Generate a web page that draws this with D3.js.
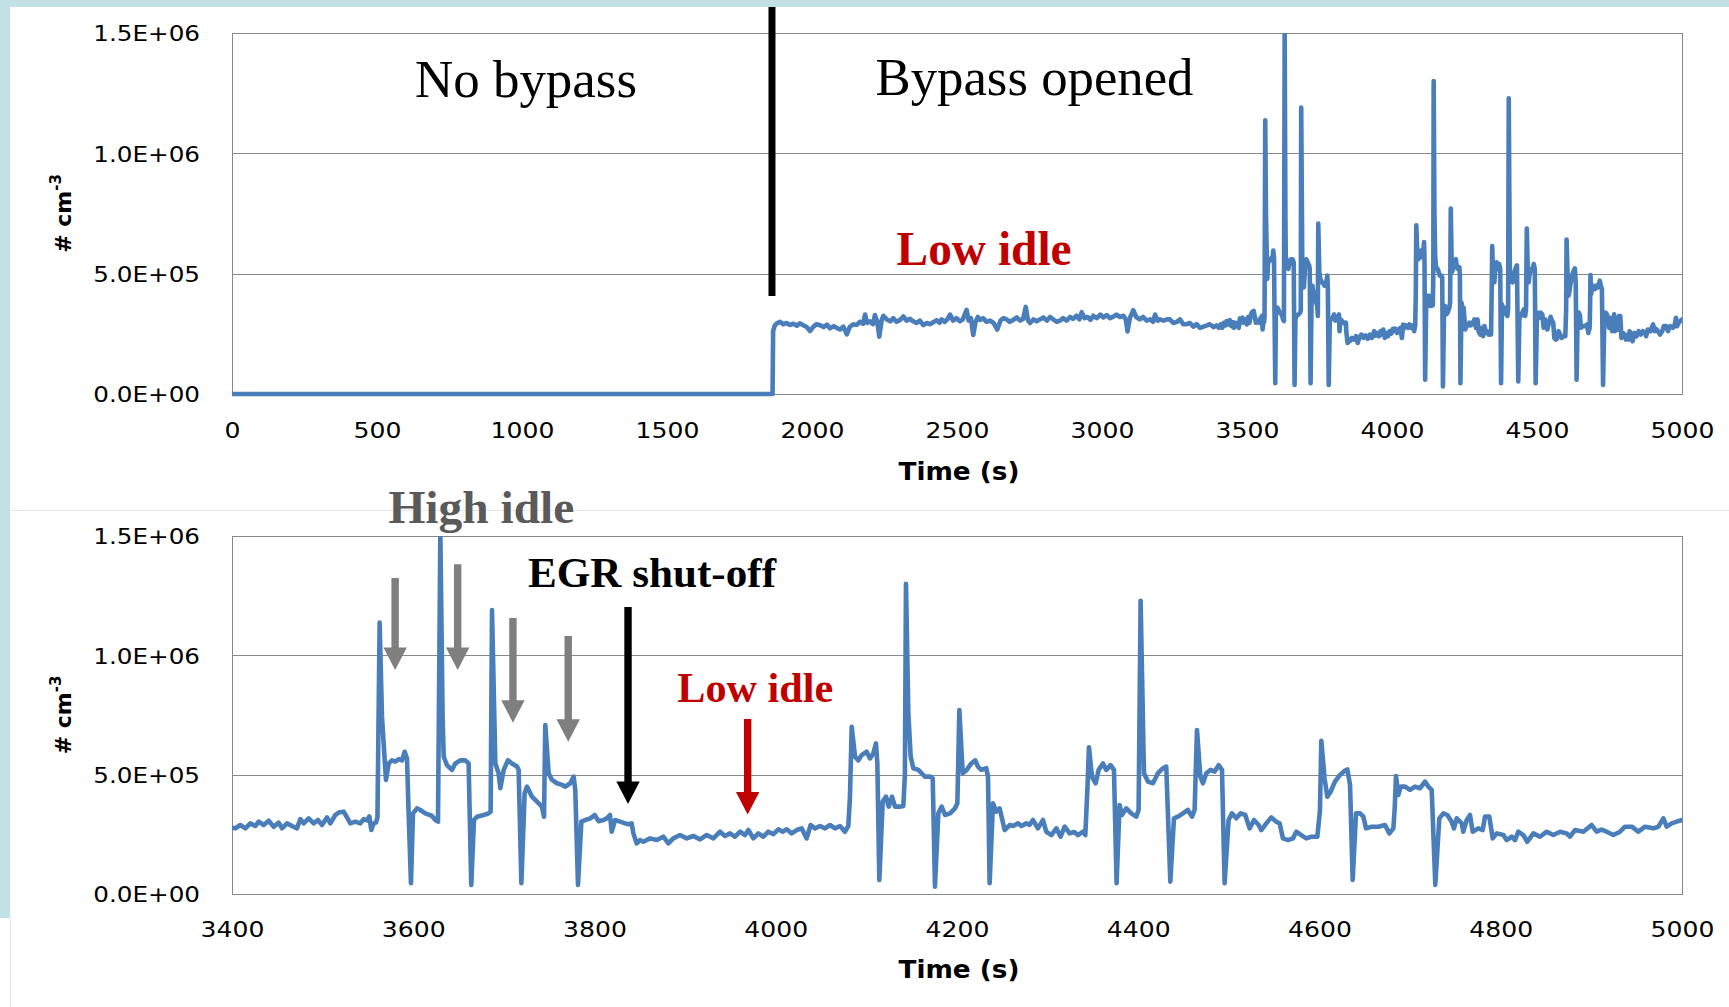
<!DOCTYPE html>
<html>
<head>
<meta charset="utf-8">
<script src="https://cdn.jsdelivr.net/npm/d3@7"></script>
<style>
  html, body { margin: 0; padding: 0; background: #fff; }
  svg { display: block; }
  .tick text { font-family: "DejaVu Sans", sans-serif; font-size: 22px; fill: #000; }
</style>
</head>
<body>
<svg id="chart" width="1729" height="1007"></svg>
<script>
// -----------------------------------------------------------------------------
// Data (time in s, concentration in units of 1E+05 # cm-3)
// -----------------------------------------------------------------------------

var timeS = [
  0, 1864,
  1866, 1872, 1880, 1890, 1900, 1912, 1924, 1936, 1948, 1958,
  1970, 1982, 1993, 2005, 2016, 2028, 2040, 2052, 2062, 2075,
  2086, 2097, 2108, 2120, 2130, 2142, 2154, 2165, 2176, 2183,
  2190, 2200, 2210, 2217, 2225, 2232, 2240, 2246, 2258, 2270,
  2280, 2292, 2304, 2315, 2326, 2338, 2349, 2360, 2372, 2384,
  2396, 2408, 2418, 2430, 2440, 2447, 2458, 2468, 2476, 2486,
  2498, 2510, 2520, 2533, 2540, 2548, 2556, 2564, 2572, 2579,
  2590, 2602, 2614, 2626, 2639, 2650, 2660, 2671, 2682, 2694,
  2706, 2718, 2728, 2737, 2745, 2752, 2764, 2775, 2786, 2798,
  2810, 2821, 2832, 2844, 2855, 2866, 2878, 2890, 2900, 2912,
  2922, 2930, 2940, 2950, 2960, 2970, 2982, 2994, 3005, 3016,
  3028, 3040, 3050, 3062, 3074, 3082, 3088, 3096, 3108, 3118,
  3130, 3142, 3154, 3166, 3176, 3183, 3192, 3200, 3212, 3224,
  3234, 3246, 3258, 3269, 3280, 3292, 3303, 3315, 3326, 3338,
  3350, 3362, 3372, 3385, 3395,
  3400, 3403.7, 3409.2, 3414.7, 3420.2, 3425.7, 3429.4, 3434.9, 3440.5, 3446,
  3451.5, 3455.2, 3460.7, 3466.2, 3471.7, 3475.4, 3479.1, 3484.6, 3490.1, 3494.9,
  3499.3, 3504.8, 3508.5, 3514, 3517.7, 3523.2, 3526.9, 3530.6, 3536.1, 3541.6,
  3545.3, 3549, 3551.5, 3553.7, 3556.3, 3558.9, 3560.5, 3562.9, 3565.5, 3568.5,
  3569.9, 3572.9, 3576.5, 3580.2, 3584, 3587.6, 3590.5, 3593.1, 3594.9, 3597.5,
  3599.7, 3604.1, 3607.8, 3613.3, 3620.7, 3624.4, 3627.3, 3629.9, 3632.4, 3633.6,
  3637.2, 3642.7, 3646.4, 3651.9, 3657.5, 3661.1, 3664, 3667, 3670.3, 3677.7,
  3683.2, 3685.4, 3686.9, 3690.6, 3694.2, 3696.1, 3699.8, 3704.5, 3708.9, 3714.5,
  3716.3, 3719.3, 3722.9, 3725.5, 3731, 3736.5, 3742, 3744.3, 3745.7, 3749.4,
  3753.1, 3758.6, 3764.1, 3767.8, 3773.3, 3777, 3778.8, 3781.8, 3785.5, 3789.9,
  3795.4, 3800.2, 3804.6, 3810, 3813.5, 3817.1, 3819, 3822.7, 3828.2, 3833.7,
  3837, 3841, 3842.9, 3846.6, 3850.2, 3853.9, 3861.3, 3868.6, 3876, 3881.5,
  3887, 3894.4, 3901.7, 3909.1, 3916.4, 3923.8, 3931.2, 3938.5, 3944, 3949.5,
  3955.1, 3960.6, 3966.1, 3969.8, 3975.3, 3980.8, 3986.3, 3991.8, 3997.4, 4002.9,
  4007.7, 4012.1, 4017.6, 4023.1, 4028.6, 4034.1, 4038.5, 4043.3, 4048.8, 4054.4,
  4059.9, 4065.4, 4070.9, 4076.4, 4080.1, 4081.9, 4083.8, 4087.5, 4091.1, 4094.8,
  4100.3, 4104, 4107.7, 4110.6, 4112.1, 4114.3, 4118, 4121.7, 4124.6, 4128.3,
  4131.6, 4137.1, 4140.8, 4142.5, 4143.7, 4146.3, 4148.9, 4151.8, 4157.4, 4161,
  4164.7, 4170.2, 4173.2, 4175.7, 4179.4, 4183.1, 4186.8, 4192.3, 4197.8, 4200.4,
  4202.6, 4206.3, 4210.7, 4215.8, 4220.2, 4223.1, 4226.8, 4232.3, 4234.2, 4236,
  4239.7, 4243.4, 4247, 4252.6, 4258.1, 4262, 4267.3, 4271, 4276.5, 4280,
  4283.8, 4289.3, 4294.9, 4298.5, 4304.1, 4309.6, 4314.3, 4318.8, 4324.3, 4329,
  4333.5, 4339, 4341.6, 4344, 4345.6, 4348.9, 4353, 4356.3, 4361.1, 4364.7,
  4369.5, 4373.2, 4376.1, 4379.4, 4382, 4386.8, 4392.3, 4397.8, 4400.4, 4402.6,
  4406.3, 4410.7, 4416.2, 4421.7, 4427.3, 4430.9, 4435.4, 4439.4, 4443.8, 4449.3,
  4454.8, 4459.3, 4462.2, 4464.8, 4468.5, 4471.4, 4475.1, 4479.9, 4484.3, 4488.7,
  4492.4, 4495.3, 4499.7, 4503.4, 4508.2, 4513, 4518.1, 4522.9, 4527.7, 4532.8,
  4535.8, 4541.3, 4546.8, 4552.3, 4556, 4559.7, 4565.2, 4570.7, 4574.4, 4579.9,
  4585.4, 4590.9, 4597.6, 4600.5, 4602, 4605.6, 4608.6, 4612.3, 4617.1, 4622.6,
  4628.2, 4630.7, 4633.7, 4636.6, 4640.3, 4644.7, 4648.4, 4651.3, 4657.6, 4664.9,
  4672.3, 4677.1, 4681.5, 4683, 4684.4, 4687, 4689.6, 4694.4, 4699.9, 4705.4,
  4710.9, 4716.4, 4720.1, 4723.8, 4727.8, 4732.2, 4736.7, 4741.1, 4745.8, 4748.4,
  4751.4, 4756.9, 4758.7, 4762.4, 4766.1, 4769, 4775.3, 4780.1, 4782.6, 4787.4,
  4791.1, 4795.5, 4802.9, 4806.5, 4812.1, 4815.7, 4819.4, 4824.9, 4829.3, 4836,
  4843.3, 4850.7, 4858, 4865.4, 4872.7, 4876.4, 4881.9, 4891.1, 4900.3, 4905.8,
  4911, 4916.9, 4924.2, 4931.6, 4937.1, 4944.5, 4951.8, 4959.2, 4968.4, 4973.9,
  4979.4, 4983.1, 4988.6, 4994.1, 5000
];

var numConc = [
  0, 0,
  2.62, 2.85, 2.95, 3.0, 2.9, 2.95, 2.87, 2.92, 2.84, 2.94,
  2.86, 2.78, 2.62, 2.8, 2.9, 2.86, 2.78, 2.88, 2.73, 2.82,
  2.74, 2.68, 2.8, 2.48, 2.78, 2.9, 2.87, 3.0, 2.92, 3.3,
  2.95, 3.02, 2.9, 3.28, 3.0, 2.38, 3.05, 3.25, 3.1, 3.02,
  3.15, 3.0, 3.08, 3.22, 3.05, 3.12, 3.02, 2.95, 3.05, 2.86,
  2.95, 2.9, 2.98, 3.06, 2.96, 3.1, 3.0, 3.12, 3.3, 3.05,
  3.15, 3.02, 3.1, 3.5, 3.05, 3.15, 2.45, 3.0, 3.2, 3.08,
  3.15, 3.0, 3.05, 2.95, 2.68, 3.05, 3.15, 3.1, 3.0, 3.08,
  3.18, 3.05, 3.12, 3.62, 3.05, 2.95, 3.1, 3.02, 3.1, 3.18,
  3.05, 3.2, 3.1, 3.0, 3.05, 3.15, 3.05, 3.2, 3.12, 3.25,
  3.1, 3.4, 3.15, 3.2, 3.08, 3.25, 3.15, 3.3, 3.18, 3.28,
  3.15, 3.22, 3.3, 3.2, 3.25, 3.1, 2.6, 3.15, 3.48, 3.2,
  3.1, 3.2, 3.05, 3.1, 3.0, 3.3, 3.05, 3.1, 3.05, 3.1,
  3.1, 2.95, 3.0, 3.1, 2.9, 2.9, 2.95, 2.8, 2.9, 2.75,
  2.8, 2.85, 2.9, 2.78, 2.85,
  2.78, 2.75, 2.89, 2.75, 2.96, 2.85, 3.03, 2.89, 3.07, 2.82,
  2.99, 2.75, 2.96, 2.85, 2.75, 3.14, 2.96, 3.17, 2.96, 3.1,
  2.89, 3.21, 2.96, 3.31, 3.41, 3.45, 3.21, 2.96, 3.03, 2.96,
  3.14, 3.08, 3.25, 2.68, 2.96, 2.99, 3.2, 11.37, 7.43, 5.6,
  4.78, 5.47, 5.6, 5.55, 5.65, 5.6, 5.96, 5.68, 3.38, 0.45,
  3.38, 3.59, 3.52, 3.38, 3.27, 3.1, 3.03, 15.1, 7.43, 5.75,
  5.4, 5.2, 5.47, 5.6, 5.6, 5.47, 0.38, 3.1, 3.24, 3.31,
  3.38, 3.45, 11.9, 5.47, 5.06, 4.43, 5.2, 5.6, 5.47, 5.34,
  5.2, 0.45, 4.22, 4.5, 4.08, 3.87, 3.66, 3.24, 7.08, 5.06,
  4.78, 4.64, 4.57, 4.5, 4.64, 4.92, 4.36, 0.38, 3.03, 3.1,
  3.17, 3.31, 3.05, 3.1, 3.17, 3.31, 2.61, 3.1, 3.03, 2.96,
  2.92, 2.96, 2.54, 2.12, 2.26, 2.19, 2.33, 2.26, 2.4, 2.12,
  2.33, 2.47, 2.33, 2.43, 2.29, 2.47, 2.33, 2.61, 2.43, 2.54,
  2.4, 2.61, 2.47, 2.68, 2.33, 2.54, 2.4, 2.61, 2.51, 2.71,
  2.61, 2.71, 2.54, 2.68, 2.75, 2.33, 2.89, 2.75, 2.85, 2.75,
  2.89, 2.75, 2.85, 2.61, 2.85, 4.08, 7.01, 5.75, 5.6, 5.82,
  5.96, 5.68, 5.89, 6.31, 5.47, 0.59, 3.87, 4.08, 3.66, 4.08,
  3.66, 3.66, 3.69, 5.0, 13.0, 7.57, 5.75, 5.27, 5.2, 5.06,
  4.92, 4.92, 4.85, 0.31, 3.38, 3.66, 3.31, 3.38, 3.59, 3.8,
  7.71, 5.06, 5.2, 5.47, 5.6, 5.34, 5.2, 5.27, 4.92, 0.45,
  3.8, 3.45, 3.59, 2.68, 2.89, 2.85, 2.96, 2.85, 2.96, 2.9,
  3.1, 2.75, 3.1, 2.61, 2.47, 2.75, 2.4, 2.82, 2.54, 2.6,
  2.47, 2.61, 2.47, 4.5, 6.15, 4.92, 4.64, 5.2, 5.47, 5.2,
  5.4, 5.2, 0.45, 3.73, 3.31, 3.59, 3.38, 3.24, 3.52, 12.29,
  5.06, 4.71, 4.64, 5.06, 5.27, 5.34, 0.52, 3.17, 3.24, 3.38,
  3.52, 3.24, 3.52, 6.87, 4.92, 4.64, 5.06, 5.2, 5.13, 5.4,
  5.2, 0.45, 3.1, 3.38, 3.17, 3.38, 3.31, 2.75, 3.1, 2.89,
  2.68, 2.96, 3.21, 3.03, 2.96, 2.33, 2.26, 2.33, 2.61, 2.47,
  2.33, 2.4, 2.4, 3.5, 6.42, 4.85, 4.08, 4.29, 4.71, 4.99,
  5.17, 5.22, 4.57, 0.59, 3.38, 3.38, 3.24, 2.75, 2.82, 2.82,
  2.89, 2.54, 2.75, 3.6, 4.94, 4.15, 4.5, 4.5, 4.36, 4.5,
  4.43, 4.71, 4.5, 4.36, 0.38, 3.17, 3.38, 3.31, 3.03, 2.75,
  3.17, 2.96, 2.61, 3.1, 3.31, 2.61, 2.75, 2.68, 3.24, 3.24,
  2.33, 2.54, 2.47, 2.26, 2.4, 2.26, 2.61, 2.47, 2.19, 2.54,
  2.4, 2.61, 2.47, 2.61, 2.54, 2.4, 2.68, 2.61, 2.89, 2.61,
  2.7, 2.61, 2.47, 2.61, 2.82, 2.82, 2.61, 2.82, 2.75, 2.82,
  3.17, 2.82, 2.96, 3.03, 3.1
];

var topTicks = [0, 500, 1000, 1500, 2000, 2500, 3000, 3500, 4000, 4500, 5000];
var bottomTicks = [3400, 3600, 3800, 4000, 4200, 4400, 4600, 4800, 5000];
var concTicks = [0, 5, 10, 15];

// arrows on the lower panel: time, start value, tip value
var arrowTimes = [3580, 3649, 3710, 3771, 3837, 3969];
var arrowFrom = [13.24, 13.82, 11.56, 10.81, 12.03, 7.33];
var arrowTo = [9.39, 9.39, 7.18, 6.38, 3.77, 3.33];
var arrowColors = ["#7f7f7f", "#7f7f7f", "#7f7f7f", "#7f7f7f", "#000000", "#c00000"];

var bypassTime = 1862;

// -----------------------------------------------------------------------------
// Helpers
// -----------------------------------------------------------------------------

var svg = d3.select("#chart");
var LINE_COLOR = "#4a7ebb";
var GRID_COLOR = "#888888";

var series = timeS.map(function (t, i) { return {t: t, v: numConc[i]}; });

function sciLabel(v) {
  var n = v * 1e5;
  if (n === 0) return "0.0E+00";
  var e = Math.floor(Math.log10(n) + 1e-9);
  var m = n / Math.pow(10, e);
  return m.toFixed(1) + "E+" + (e < 10 ? "0" : "") + e;
}

function stretch(sel, k) {
  sel.each(function () {
    var w = this.getComputedTextLength();
    d3.select(this).attr("textLength", w * k).attr("lengthAdjust", "spacingAndGlyphs");
  });
}

function drawPanel(p, id) {
  var x = d3.scaleLinear().domain(p.xDomain).range([p.left, p.right]);
  var y = d3.scaleLinear().domain([0, 15]).range([p.bottom, p.top]);
  var g = svg.append("g");

  g.append("rect")
      .attr("x", p.left + 0.5).attr("y", p.top + 0.5)
      .attr("width", p.right - p.left).attr("height", p.bottom - p.top)
      .attr("fill", "#fff").attr("stroke", GRID_COLOR);

  g.selectAll(".grid").data(concTicks.slice(1, -1)).join("line")
      .attr("x1", p.left).attr("x2", p.right)
      .attr("y1", function (d) { return Math.round(y(d)) + 0.5; })
      .attr("y2", function (d) { return Math.round(y(d)) + 0.5; })
      .attr("stroke", GRID_COLOR);

  svg.append("clipPath").attr("id", id)
    .append("rect")
      .attr("x", p.left).attr("y", p.top)
      .attr("width", p.right - p.left).attr("height", p.bottom - p.top + 6);

  var line = d3.line()
      .x(function (d) { return x(d.t); })
      .y(function (d) { return y(d.v); });

  g.append("path")
      .datum(series.filter(function (d) { return d.t >= p.xDomain[0] && d.t <= p.xDomain[1]; }))
      .attr("clip-path", "url(#" + id + ")")
      .attr("fill", "none")
      .attr("stroke", LINE_COLOR)
      .attr("stroke-width", 4.6)
      .attr("stroke-linejoin", "round")
      .attr("stroke-linecap", "round")
      .attr("d", line);

  var xAxis = g.append("g")
      .attr("transform", "translate(0," + p.bottom + ")")
      .call(d3.axisBottom(x).tickValues(p.xTicks).tickSize(0).tickPadding(p.labelPad).tickFormat(d3.format("d")));
  xAxis.select(".domain").remove();
  stretch(xAxis.selectAll("text"), 1.14);

  var yAxis = g.append("g")
      .attr("transform", "translate(" + p.left + ",0)")
      .call(d3.axisLeft(y).tickValues(concTicks).tickSize(0).tickPadding(32).tickFormat(sciLabel));
  yAxis.select(".domain").remove();
  yAxis.selectAll("text").attr("dy", "0.36em");
  stretch(yAxis.selectAll("text"), 1.12);

  g.append("text")
      .attr("x", (p.left + p.right) / 2 + 2)
      .attr("y", p.titleY)
      .attr("text-anchor", "middle")
      .attr("font-family", "DejaVu Sans, sans-serif")
      .attr("font-weight", "bold")
      .attr("font-size", 24)
      .attr("textLength", 121)
      .attr("lengthAdjust", "spacingAndGlyphs")
      .text("Time (s)");

  var yTitle = g.append("text")
      .attr("transform", "translate(71," + ((p.top + p.bottom) / 2) + ") rotate(-90)")
      .attr("text-anchor", "middle")
      .attr("font-family", "DejaVu Sans, sans-serif")
      .attr("font-weight", "bold")
      .attr("font-size", 22);
  yTitle.append("tspan").text("# cm");
  yTitle.append("tspan").attr("font-size", 15).attr("dy", -10).text("-3");

  return {x: x, y: y, g: g};
}

function addLabel(text, x, y, size, weight, fill, len) {
  svg.append("text")
      .attr("x", x).attr("y", y)
      .attr("font-family", "Liberation Serif, Times New Roman, serif")
      .attr("font-size", size)
      .attr("font-weight", weight)
      .attr("fill", fill)
      .attr("textLength", len)
      .attr("lengthAdjust", "spacingAndGlyphs")
      .text(text);
}

// -----------------------------------------------------------------------------
// Page frame
// -----------------------------------------------------------------------------

svg.append("rect").attr("width", 1729).attr("height", 1007).attr("fill", "#fff");
svg.append("rect").attr("x", 0).attr("y", 0).attr("width", 1729).attr("height", 7).attr("fill", "#c1e1e7");
svg.append("rect").attr("x", 0).attr("y", 0).attr("width", 10).attr("height", 918).attr("fill", "#c1e1e7");
svg.append("line").attr("x1", 10.5).attr("x2", 10.5).attr("y1", 918).attr("y2", 1007).attr("stroke", "#e2e2e2");
svg.append("line").attr("x1", 10).attr("x2", 1729).attr("y1", 510.5).attr("y2", 510.5).attr("stroke", "#e6e6e6");

// -----------------------------------------------------------------------------
// Panels
// -----------------------------------------------------------------------------

var topPanel = drawPanel({xDomain: [0, 5000], xTicks: topTicks, left: 232, right: 1682,
                          top: 33, bottom: 394, labelPad: 28, titleY: 480}, "clipTop");
var bottomPanel = drawPanel({xDomain: [3400, 5000], xTicks: bottomTicks, left: 232, right: 1682,
                             top: 536, bottom: 894, labelPad: 27, titleY: 978}, "clipBottom");

// bypass opening marker
svg.append("line")
    .attr("x1", topPanel.x(bypassTime)).attr("x2", topPanel.x(bypassTime))
    .attr("y1", topPanel.y(16.08)).attr("y2", topPanel.y(4.07))
    .attr("stroke", "#000").attr("stroke-width", 7);

addLabel("No bypass", 415, 97, 52, "normal", "#000", 222);
addLabel("Bypass opened", 875.5, 94.5, 52, "normal", "#000", 318);
addLabel("Low idle", 896.6, 265, 48, "bold", "#c00000", 175);

addLabel("High idle", 388.4, 522.7, 47, "bold", "#5a5a5a", 186);
addLabel("EGR shut-off", 528, 586.7, 43, "bold", "#000", 248);
addLabel("Low idle", 677.3, 702.3, 42, "bold", "#c00000", 156);

// arrows
var HEAD_LEN = 22.5, HEAD_HALF = 11.7, SHAFT_HALF = 3.7;
svg.selectAll(".arrow").data(arrowTimes).join("path")
    .attr("class", "arrow")
    .attr("fill", function (d, i) { return arrowColors[i]; })
    .attr("d", function (d, i) {
      var cx = bottomPanel.x(d);
      var y0 = bottomPanel.y(arrowFrom[i]);
      var tip = bottomPanel.y(arrowTo[i]);
      var hb = tip - HEAD_LEN;
      return "M" + (cx - SHAFT_HALF) + "," + y0 +
             "L" + (cx + SHAFT_HALF) + "," + y0 +
             "L" + (cx + SHAFT_HALF) + "," + hb +
             "L" + (cx + HEAD_HALF) + "," + hb +
             "L" + cx + "," + tip +
             "L" + (cx - HEAD_HALF) + "," + hb +
             "L" + (cx - SHAFT_HALF) + "," + hb + "Z";
    });
</script>
</body>
</html>
